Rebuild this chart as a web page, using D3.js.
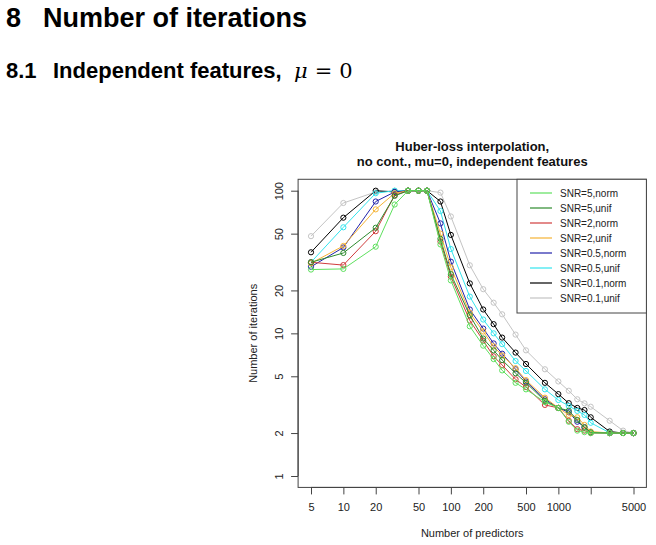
<!DOCTYPE html>
<html>
<head>
<meta charset="utf-8">
<script src="https://cdn.jsdelivr.net/npm/d3@7"></script>
<style>
  html, body { margin: 0; padding: 0; background: #fff; }
  svg { display: block; }
</style>
</head>
<body>
<svg id="chart" width="656" height="545"></svg>
<script>
// ---------- data ----------
const predictors = [5, 10, 20, 30, 40, 50, 60, 80, 100, 150, 200, 250, 300, 400, 500, 750, 1000, 1250, 1500, 1750, 2000, 3000, 4000, 5000];

const snr5norm   = [28, 28.3, 40.5, 80, 100, 100, 100, 42, 23.5, 11.2, 8.2, 6.6, 5.5, 4.5, 4.05, 3.3, 3.0, 2.4, 2.08, 2.03, 2.0, 2.0, 2.0, 2.0];
const snr5unif   = [31.5, 36.6, 55, 92, 100, 100, 100, 46, 26, 13.4, 9.2, 7.6, 6.5, 5.25, 4.5, 3.36, 3.0, 2.87, 2.47, 2.19, 2.02, 2.0, 2.0, 2.0];
const snr2norm   = [31.5, 30.1, 52, 93, 100, 100, 100, 44, 25, 12.3, 8.9, 6.9, 6.0, 4.76, 4.2, 3.15, 3.0, 2.44, 2.13, 2.08, 2.0, 2.0, 2.0, 2.0];
const snr2unif   = [31, 41, 74, 96, 100, 100, 100, 50, 29, 13.9, 10.3, 8.1, 7.0, 5.7, 4.7, 3.54, 3.0, 2.68, 2.58, 2.28, 2.05, 2.0, 2.0, 2.0];
const snr05norm  = [29.3, 40, 84, 98, 100, 100, 100, 59, 31.8, 14.7, 10.8, 8.5, 7.2, 5.6, 4.6, 3.45, 3.0, 2.8, 2.4, 2.2, 2.02, 2.0, 2.0, 2.0];
const snr05unif  = [31.5, 55.4, 96, 100, 100, 100, 100, 72, 39, 18.1, 12.5, 10, 8.4, 6.4, 5.45, 4.05, 3.41, 3.1, 2.86, 2.68, 2.36, 2.01, 2.0, 2.0];
const snr01norm  = [37, 64.7, 100, 98, 100, 100, 100, 84, 49, 22.4, 14.7, 11.6, 9.34, 7.33, 6.1, 4.5, 3.75, 3.24, 3.0, 2.9, 2.58, 2.05, 2.0, 2.0];
const snr01unif  = [48, 82, 98, 100, 100, 100, 100, 97, 66, 30, 20.4, 16.4, 13.6, 9.8, 7.6, 5.6, 4.6, 3.96, 3.45, 3.23, 3.06, 2.44, 2.08, 2.0];

const seriesNames  = ["SNR=5,norm", "SNR=5,unif", "SNR=2,norm", "SNR=2,unif", "SNR=0.5,norm", "SNR=0.5,unif", "SNR=0.1,norm", "SNR=0.1,unif"];
const seriesValues = [snr5norm, snr5unif, snr2norm, snr2unif, snr05norm, snr05unif, snr01norm, snr01unif];
const seriesColors = ["#5ee05e", "#2e8b2e", "#d03c3c", "#f5b335", "#2222aa", "#33e5ee", "#000000", "#c4c4c4"];

const xTicks = [5, 10, 20, 50, 100, 200, 500, 1000, 2000, 5000];
const xTickLabels = ["5", "10", "20", "50", "100", "200", "500", "1000", "", "5000"];
const yTicks = [1, 2, 5, 10, 20, 50, 100];

// ---------- layout ----------
const svg = d3.select("#chart");
const font = "'Liberation Sans', Arial, sans-serif";

const xr = [311, 633.5], yr = [476, 190.7];
const x = d3.scaleLog().domain([5, 5000]).range(xr);
const y = d3.scaleLog().domain([1, 100]).range(yr);
const ext = 0.04;
const boxL = xr[0] - ext * (xr[1] - xr[0]);
const boxR = xr[1] + ext * (xr[1] - xr[0]);
const boxT = yr[1] - ext * (yr[0] - yr[1]);
const boxB = yr[0] + ext * (yr[0] - yr[1]);

// headings
svg.append("text").attr("x", 6).attr("y", 27)
  .attr("font-family", font).attr("font-weight", "bold").attr("font-size", 27)
  .text("8");
svg.append("text").attr("x", 43).attr("y", 27)
  .attr("font-family", font).attr("font-weight", "bold").attr("font-size", 27)
  .text("Number of iterations");

const sub = svg.append("text").attr("x", 6).attr("y", 78)
  .attr("font-family", font).attr("font-weight", "bold").attr("font-size", 22);
sub.append("tspan").text("8.1");
sub.append("tspan").attr("x", 53).text("Independent features,");
const math = svg.append("text").attr("x", 294).attr("y", 78)
  .attr("font-family", "'DejaVu Serif', 'Liberation Serif', serif").attr("font-size", 21);
math.append("tspan").attr("font-style", "italic").text("μ");
math.append("tspan").attr("dx", 7).text("=");
math.append("tspan").attr("dx", 7).text("0");

// chart title
const cx = (boxL + boxR) / 2;
svg.append("text").attr("x", cx).attr("y", 150.5).attr("text-anchor", "middle")
  .attr("font-family", font).attr("font-weight", "bold").attr("font-size", 13).attr("fill", "#111")
  .text("Huber-loss interpolation,");
svg.append("text").attr("x", cx).attr("y", 166).attr("text-anchor", "middle")
  .attr("font-family", font).attr("font-weight", "bold").attr("font-size", 13).attr("fill", "#111")
  .text("no cont., mu=0, independent features");

// box
svg.append("rect").attr("x", boxL).attr("y", boxT).attr("width", boxR - boxL).attr("height", boxB - boxT)
  .attr("fill", "none").attr("stroke", "#444").attr("stroke-width", 1);

// x axis
const xAxis = svg.append("g").attr("transform", `translate(0,${boxB})`)
  .call(d3.axisBottom(x).tickValues(xTicks).tickSize(7).tickPadding(9)
    .tickFormat((d, i) => xTickLabels[i]));
xAxis.select(".domain").attr("stroke", "#444").attr("d", `M${x(5)},0H${x(5000)}`);
xAxis.selectAll(".tick line").attr("stroke", "#444");
xAxis.selectAll("text").attr("font-family", font).attr("font-size", 11).attr("fill", "#222");

// y axis
const yAxis = svg.append("g").attr("transform", `translate(${boxL},0)`)
  .call(d3.axisLeft(y).tickValues(yTicks).tickSize(7).tickFormat(d3.format("d")));
yAxis.select(".domain").attr("stroke", "#444").attr("d", `M0,${y(1)}V${y(100)}`);
yAxis.selectAll(".tick line").attr("stroke", "#444");
yAxis.selectAll("text")
  .attr("font-family", font).attr("font-size", 11).attr("fill", "#222")
  .attr("x", null).attr("dy", null)
  .attr("text-anchor", "middle")
  .attr("transform", "translate(-15,0) rotate(-90)");

// axis titles
svg.append("text").attr("x", cx).attr("y", 537).attr("text-anchor", "middle")
  .attr("font-family", font).attr("font-size", 11).attr("fill", "#222")
  .text("Number of predictors");
svg.append("text").attr("transform", `translate(257,${(boxT + boxB) / 2}) rotate(-90)`)
  .attr("text-anchor", "middle")
  .attr("font-family", font).attr("font-size", 11).attr("fill", "#222")
  .text("Number of iterations");

// series (drawn in reverse so that the first series ends on top)
const line = d3.line().x((d, i) => x(predictors[i])).y(d => y(d));
const order = d3.range(seriesValues.length).reverse();
order.forEach(k => {
  const g = svg.append("g");
  g.append("path").datum(seriesValues[k]).attr("d", line)
    .attr("fill", "none").attr("stroke", seriesColors[k]).attr("stroke-width", 1);
  g.selectAll("circle").data(seriesValues[k]).join("circle")
    .attr("cx", (d, i) => x(predictors[i])).attr("cy", d => y(d)).attr("r", 2.6)
    .attr("fill", "none").attr("stroke", seriesColors[k]).attr("stroke-width", 1);
});

// legend
const legL = 517, legT = boxT, legB = 313;
svg.append("rect").attr("x", legL).attr("y", legT).attr("width", boxR - legL).attr("height", legB - legT)
  .attr("fill", "#fff").attr("stroke", "#444").attr("stroke-width", 1);
seriesNames.forEach((name, i) => {
  const ly = 193 + 15 * i;
  svg.append("line").attr("x1", 530).attr("x2", 552).attr("y1", ly).attr("y2", ly)
    .attr("stroke", seriesColors[i]).attr("stroke-width", 1.2);
  svg.append("text").attr("x", 560).attr("y", ly + 3.6)
    .attr("font-family", font).attr("font-size", 10).attr("fill", "#222")
    .text(name);
});
</script>
</body>
</html>
